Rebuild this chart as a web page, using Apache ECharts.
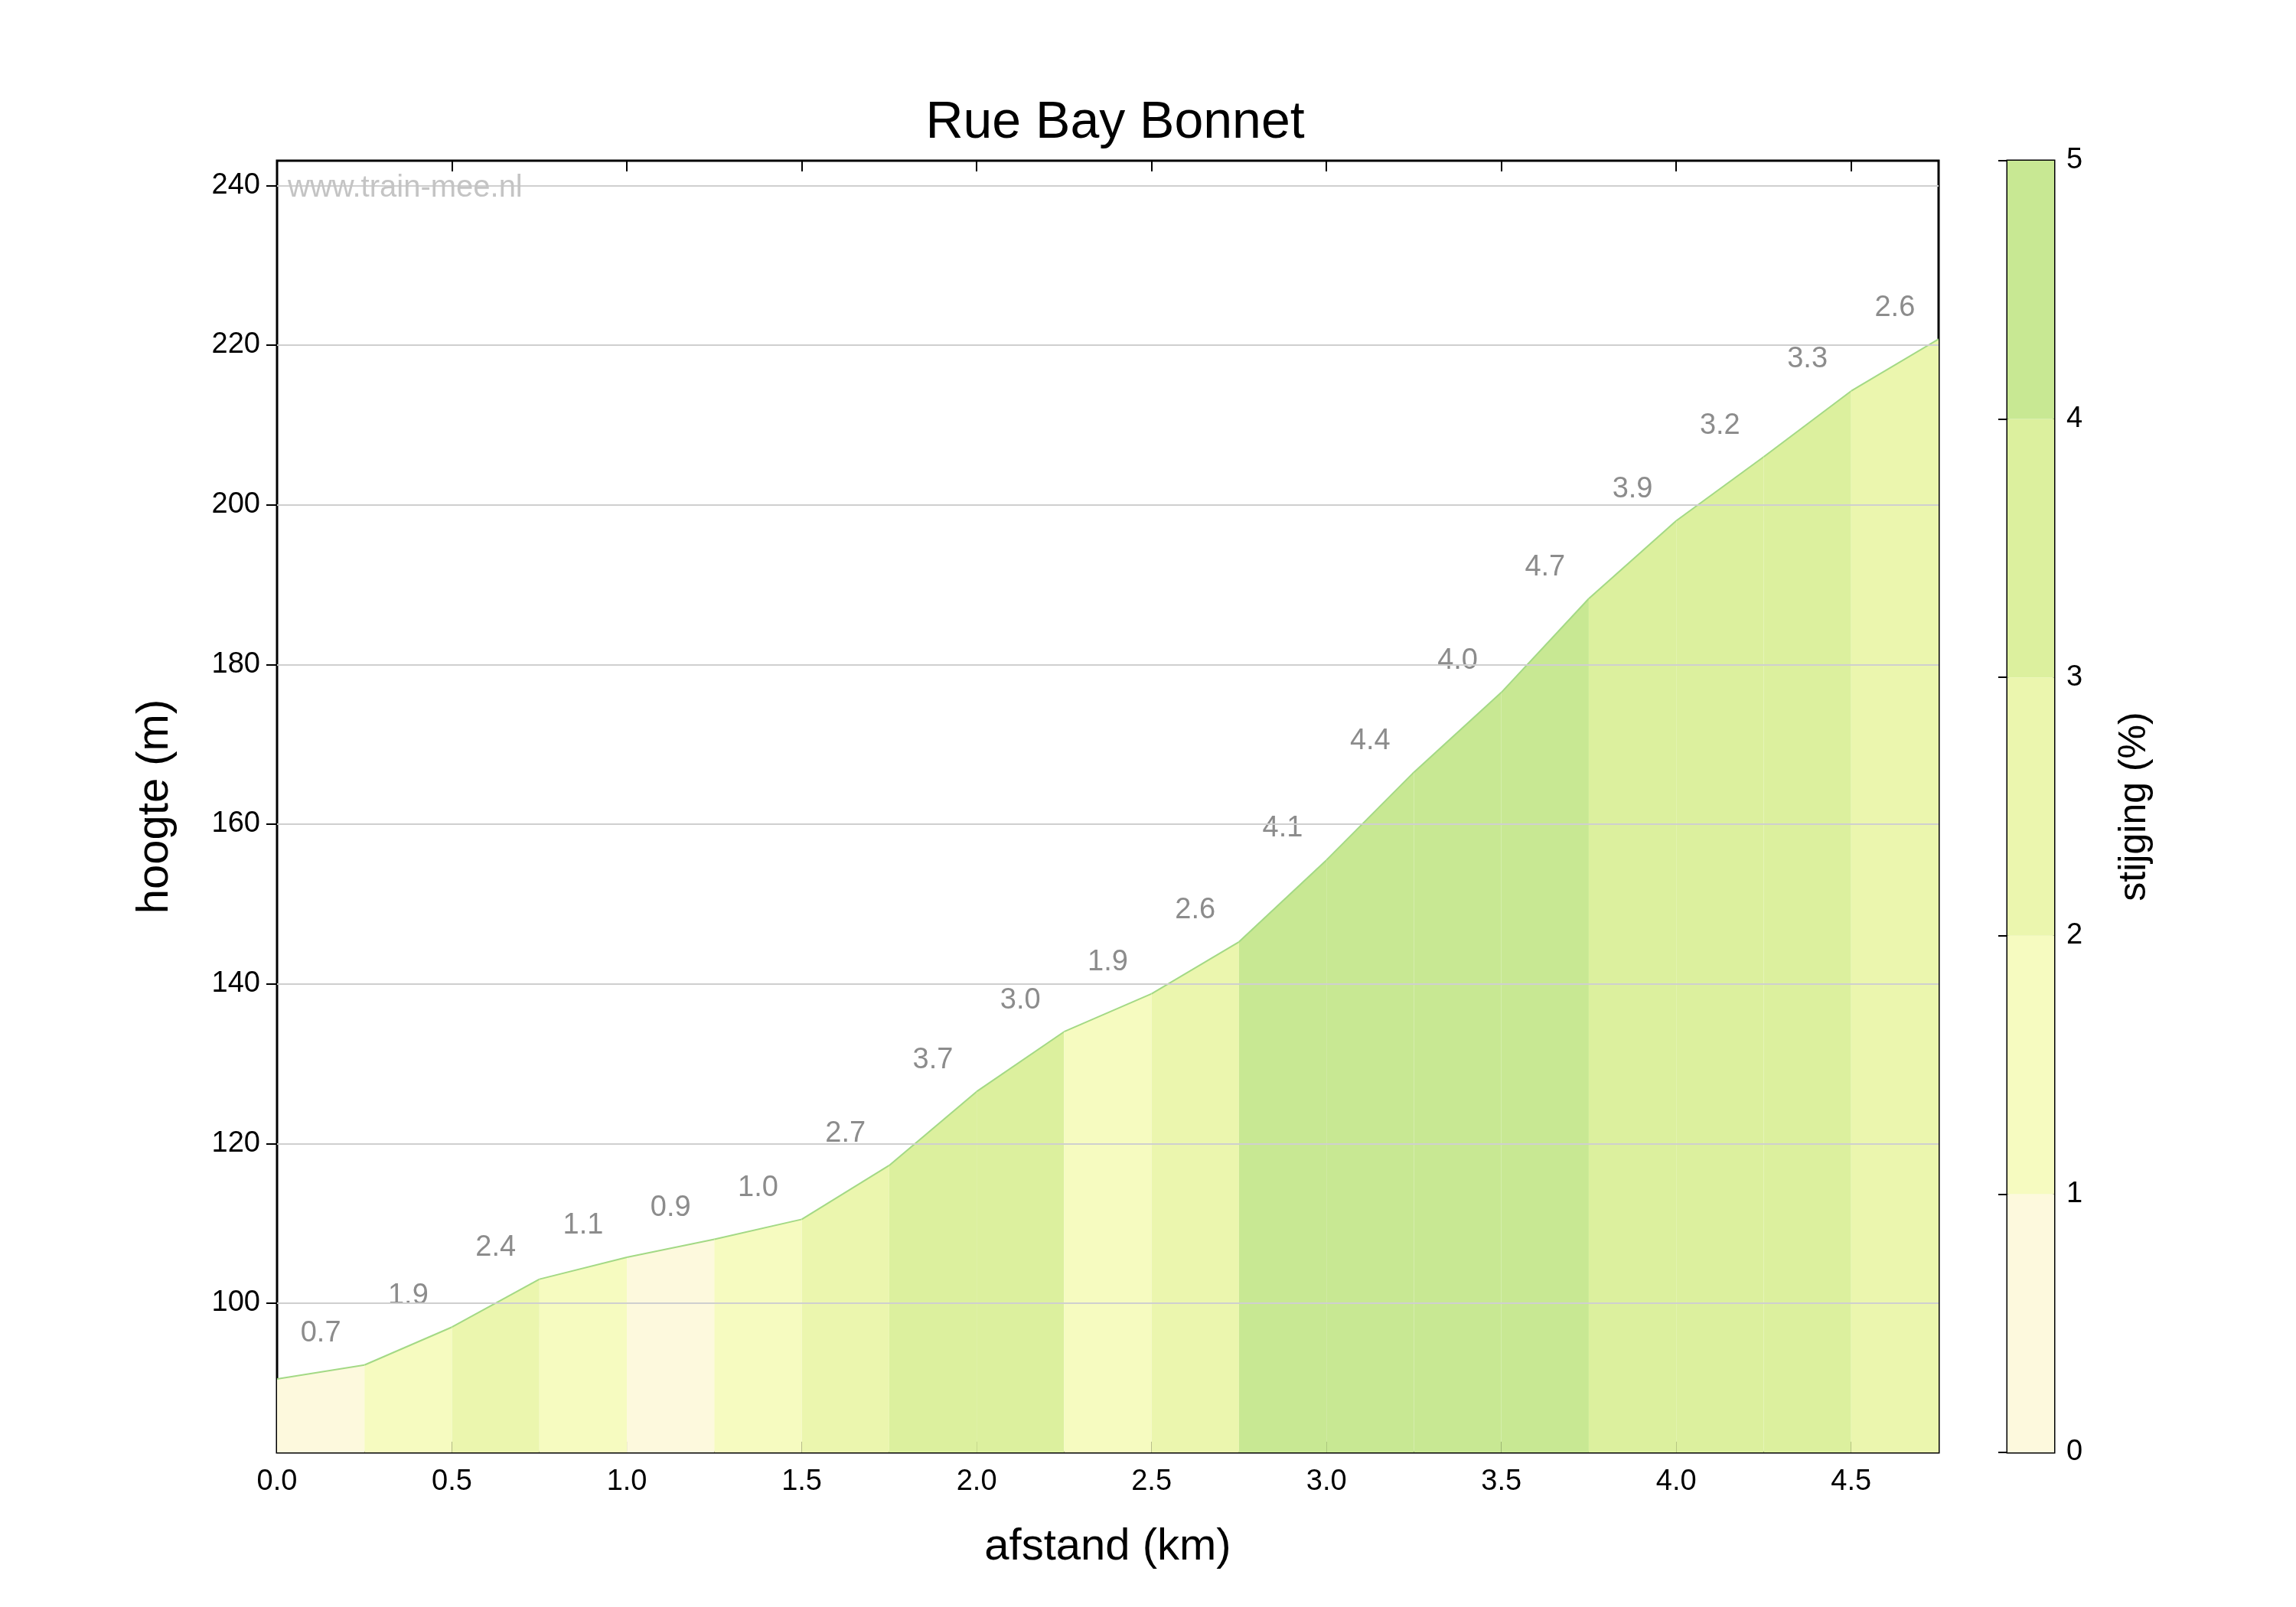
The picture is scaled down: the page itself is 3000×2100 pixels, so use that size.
<!DOCTYPE html><html><head><meta charset="utf-8">
<script src="https://cdn.jsdelivr.net/npm/echarts@6/dist/echarts.min.js"></script>
<style>html,body{margin:0;background:#fff}#c{width:3000px;height:2100px}</style></head><body><div id="c"></div>
<script>
const distances=[0,0.25,0.5,0.75,1,1.25,1.5,1.75,2,2.25,2.5,2.75,3,3.25,3.5,3.75,4,4.25,4.5,4.75];
const elevations=[90.5,92.25,97,103,105.75,108,110.5,117.25,126.5,134,138.75,145.25,155.5,166.5,176.5,188.25,198,206,214.25,220.75];
const gradients=[0.7,1.9,2.4,1.1,0.9,1.0,2.7,3.7,3.0,1.9,2.6,4.1,4.4,4.0,4.7,3.9,3.2,3.3,2.6];
const yTicks=[100,120,140,160,180,200,220,240];
const barTicks=[0,1,2,3,4,5];
const bandColors=['#fdf9dd','#f6fbc0','#ebf6ae','#dcf09e','#c8e893'];
function colorFor(g){return bandColors[Math.min(4,Math.floor(g))];}
const segs=gradients.map((g,i)=>[distances[i],distances[i+1],elevations[i],elevations[i+1],g]);
const bands=barTicks.slice(0,5).map((v,i)=>[v,v+1,i]);
const F='"Helvetica Neue",Arial,"Liberation Sans",sans-serif';
const chart=echarts.init(document.getElementById('c'));
chart.setOption({
 animation:false,
 title:{text:'Rue Bay Bonnet',left:1452,top:122,textAlign:'center',textStyle:{fontFamily:F,fontSize:68,fontWeight:'normal',color:'#000'}},
 grid:[{left:362,top:210,width:2171,height:1688,show:true,borderColor:'#000',borderWidth:3,backgroundColor:'transparent'},
       {left:2623,top:210,width:61,height:1688,show:true,borderColor:'#000',borderWidth:3}],
 xAxis:[{type:'value',gridIndex:0,min:0,max:4.75,interval:0.5,name:'afstand (km)',nameLocation:'middle',nameGap:95,
   nameTextStyle:{fontFamily:F,fontSize:58,color:'#000'},
   axisLine:{show:false},axisTick:{inside:true,length:14,lineStyle:{color:'#000',width:2}},
   axisLabel:{fontFamily:F,fontSize:38,color:'#000',margin:20,formatter:v=>v.toFixed(1),showMaxLabel:false},splitLine:{show:false}},
  {type:'value',gridIndex:0,position:'top',min:0,max:4.75,interval:0.5,axisLine:{show:false},axisLabel:{show:false},
   axisTick:{inside:true,length:14,lineStyle:{color:'#000',width:2}},splitLine:{show:false}},
  {type:'value',gridIndex:1,min:0,max:1,show:false}],
 yAxis:[{type:'value',gridIndex:0,min:81.3,max:243.1,name:'hoogte (m)',nameLocation:'middle',nameGap:130,
   nameTextStyle:{fontFamily:F,fontSize:58,color:'#000'},axisLine:{show:false},
   axisLabel:{fontFamily:F,fontSize:38,color:'#000',margin:22,customValues:yTicks},
   axisTick:{inside:true,length:14,lineStyle:{color:'#000',width:2},customValues:yTicks},
   splitLine:{show:false}},
  {type:'value',gridIndex:0,position:'right',min:81.3,max:243.1,axisLine:{show:false},axisLabel:{show:false},
   axisTick:{inside:true,length:14,lineStyle:{color:'#000',width:2},customValues:yTicks},splitLine:{show:false}},
  {type:'value',gridIndex:1,position:'right',min:0,max:5,interval:1,name:'stijging (%)',nameLocation:'middle',nameGap:80,nameRotate:90,
   nameTextStyle:{fontFamily:F,fontSize:50,color:'#000'},axisLine:{show:false},
   axisTick:{inside:true,length:12,lineStyle:{color:'#000',width:2}},
   axisLabel:{fontFamily:F,fontSize:38,color:'#000',margin:16},splitLine:{show:false}}],
 graphic:[{type:'text',left:376,top:226,z:50,style:{text:'www.train-mee.nl',fontFamily:F,fontSize:40,fill:'#c4c4c4'}}],
 series:[
  {type:'line',xAxisIndex:0,yAxisIndex:0,data:yTicks.map(v=>[0,v]),showSymbol:false,lineStyle:{width:0},z:1,silent:true,
   markLine:{silent:true,symbol:'none',label:{show:false},lineStyle:{color:'#cfcfcf',width:2,type:'solid'},data:yTicks.map(v=>({yAxis:v}))}},
  {type:'custom',xAxisIndex:0,yAxisIndex:0,data:segs,z:2,clip:true,renderItem:(p,api)=>{
    const x0=api.value(0),x1=api.value(1),e0=api.value(2),e1=api.value(3),g=api.value(4);
    const a=api.coord([x0,e0]),b=api.coord([x1,e1]),c=api.coord([x1,81.3]),d=api.coord([x0,81.3]);
    const t=api.coord([(x0+x1)/2,Math.max(e0,e1)]);
    return {type:'group',children:[
     {type:'polygon',shape:{points:[a,b,c,d]},style:{fill:colorFor(g)}},
     {type:'line',shape:{x1:a[0],y1:a[1],x2:b[0],y2:b[1]},style:{stroke:'#a3d985',lineWidth:2}},
     {type:'text',x:t[0],y:t[1]-22,style:{text:g.toFixed(1),fontFamily:F,fontSize:38,fill:'#8c8c8c',align:'center',verticalAlign:'bottom'}}]};
  }},
  {type:'custom',xAxisIndex:2,yAxisIndex:2,data:bands,renderItem:(p,api)=>{
    const a=api.coord([0,api.value(1)]),b=api.coord([1,api.value(0)]);
    return {type:'rect',shape:{x:a[0],y:a[1],width:b[0]-a[0],height:b[1]-a[1]},style:{fill:bandColors[api.value(2)]}};
  }}
 ]
});
</script></body></html>
